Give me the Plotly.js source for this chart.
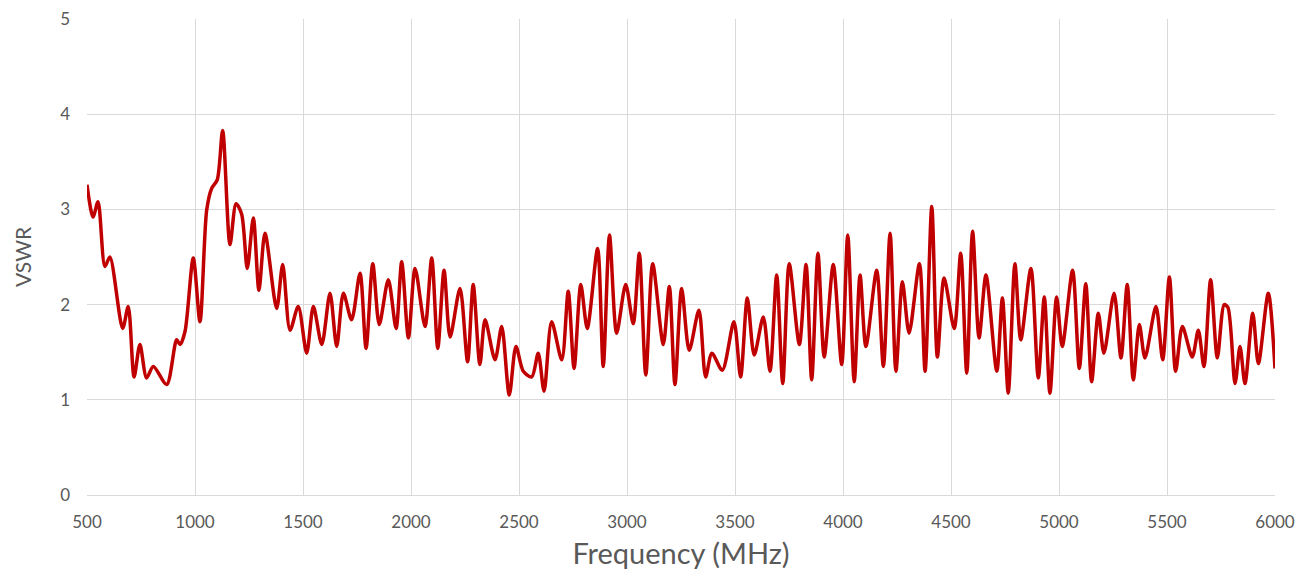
<!DOCTYPE html>
<html>
<head>
<meta charset="utf-8">
<script src="https://cdn.plot.ly/plotly-3.0.1.min.js"></script>
<style>html,body{margin:0;padding:0;background:#fff;}#chart{width:1312px;height:576px;}</style>
</head>
<body>
<div id="chart"></div>
<script>
const freqMHz = [500,528,551,583,606,665,691,718,745,776,807,869,915,931,954,992,1023,1054,1077,1103,1128,1162,1190,1216,1242,1270,1296,1324,1378,1406,1440,1478,1517,1548,1587,1625,1656,1687,1725,1764,1792,1823,1853,1895,1931,1957,1988,2019,2065,2096,2124,2153,2181,2227,2262,2288,2319,2343,2389,2420,2455,2486,2520,2559,2589,2616,2651,2698,2728,2755,2786,2816,2864,2890,2919,2952,2994,3029,3057,3087,3119,3168,3196,3222,3253,3288,3333,3364,3393,3441,3495,3526,3557,3589,3631,3662,3693,3721,3751,3798,3829,3855,3884,3913,3955,3994,4022,4052,4079,4106,4156,4187,4218,4245,4275,4306,4354,4380,4411,4437,4468,4515,4545,4573,4600,4630,4662,4712,4738,4765,4796,4823,4870,4904,4932,4958,4989,5015,5063,5094,5124,5151,5182,5208,5255,5287,5316,5344,5372,5398,5449,5480,5511,5540,5571,5617,5645,5671,5702,5733,5765,5782,5815,5838,5861,5897,5923,5969,6000];
const vswr = [3.26,2.92,3.08,2.40,2.50,1.75,1.98,1.24,1.58,1.23,1.35,1.16,1.63,1.58,1.72,2.49,1.82,2.99,3.22,3.31,3.83,2.63,3.06,2.95,2.38,2.91,2.15,2.75,1.96,2.42,1.73,1.98,1.49,1.98,1.58,2.12,1.56,2.12,1.84,2.33,1.54,2.43,1.79,2.26,1.75,2.45,1.65,2.38,1.77,2.49,1.54,2.36,1.66,2.17,1.40,2.21,1.37,1.84,1.42,1.77,1.05,1.56,1.30,1.24,1.49,1.09,1.82,1.42,2.14,1.33,2.21,1.75,2.59,1.35,2.73,1.70,2.21,1.80,2.54,1.26,2.43,1.58,2.19,1.16,2.17,1.52,1.94,1.24,1.49,1.31,1.82,1.24,2.07,1.47,1.87,1.30,2.31,1.17,2.43,1.58,2.42,1.21,2.54,1.45,2.42,1.37,2.73,1.19,2.31,1.56,2.36,1.35,2.75,1.30,2.24,1.70,2.43,1.30,3.03,1.45,2.28,1.75,2.54,1.28,2.77,1.65,2.31,1.30,2.07,1.07,2.43,1.63,2.38,1.23,2.08,1.07,2.08,1.56,2.36,1.33,2.22,1.19,1.91,1.49,2.12,1.44,2.21,1.21,1.79,1.44,1.98,1.42,2.29,1.30,1.77,1.45,1.73,1.35,2.26,1.44,2.00,1.97,1.17,1.56,1.17,1.91,1.38,2.12,1.33];
const xTicks = [500,1000,1500,2000,2500,3000,3500,4000,4500,5000,5500,6000];
const yTicks = [0,1,2,3,4,5];

const trace = {
  x: freqMHz, y: vswr, type: 'scatter', mode: 'lines',
  line: {color: '#C00000', width: 3.5, shape: 'spline', smoothing: 0.8},
  hoverinfo: 'x+y'
};
const fontFam = 'Lato, "Open Sans", sans-serif';
const layout = {
  width: 1312, height: 576,
  margin: {l: 87, r: 37, t: 19, b: 81},
  paper_bgcolor: '#ffffff', plot_bgcolor: '#ffffff',
  showlegend: false,
  font: {family: fontFam, color: '#595959', size: 17},
  xaxis: {
    range: [500, 6000], tickvals: xTicks, ticktext: xTicks.map(String),
    showgrid: true, gridcolor: '#d9d9d9', gridwidth: 1,
    zeroline: false, showline: true, linecolor: '#d9d9d9', linewidth: 1,
    ticks: '', ticklabelstandoff: 12,
    tickfont: {family: fontFam, size: 17, color: '#595959'},
    title: {text: 'Frequency (MHz)', font: {family: fontFam, size: 29, color: '#595959'}, standoff: 12}
  },
  yaxis: {
    range: [0, 5], tickvals: yTicks, ticktext: yTicks.map(String),
    showgrid: true, gridcolor: '#d9d9d9', gridwidth: 1,
    zeroline: false, showline: false,
    ticks: '', ticklabelstandoff: 16,
    tickfont: {family: fontFam, size: 17, color: '#595959'},
    title: {text: 'VSWR', font: {family: fontFam, size: 21, color: '#595959'}, standoff: 22}
  }
};
Plotly.newPlot('chart', [trace], layout, {displayModeBar: false, staticPlot: true});
</script>
</body>
</html>
